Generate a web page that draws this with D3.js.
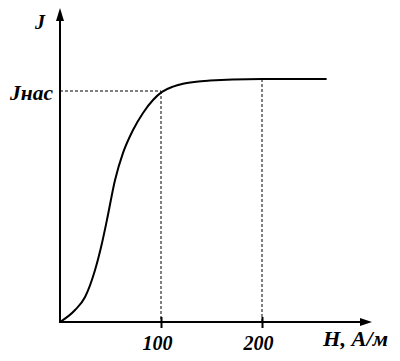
<!DOCTYPE html>
<html><head><meta charset="utf-8">
<script src="https://cdn.jsdelivr.net/npm/d3@7"></script>
<style>body{margin:0;background:#fff}svg{display:block}</style>
</head><body>
<svg id="c" width="400" height="361"></svg>
<script>
const H = [0, 14.9, 24.8, 34.7, 41.6, 46.5, 54.5, 62.4, 72.3, 82.2, 92.1, 101, 111.9, 121.8, 135, 148.5, 171, 200, 264];
const J = [0, 0.052, 0.108, 0.225, 0.342, 0.442, 0.615, 0.732, 0.831, 0.905, 0.961, 0.996, 1.019, 1.031, 1.040, 1.045, 1.050, 1.052, 1.052];
const xTicks = [100, 200];
const xTickLabels = ["100", "200"];
const Jsat = 1;
const Hsat = 100;
const Hmark = 200;

const svg = d3.select("#c");
const x = d3.scaleLinear().domain([0, 300]).range([60, 363]);
const y = d3.scaleLinear().domain([0, 1]).range([322, 91]);
const font = "'Liberation Serif','Times New Roman',serif";

// dashed guides
svg.append("line").attr("x1", x(0)).attr("x2", x(Hsat)).attr("y1", y(Jsat)).attr("y2", y(Jsat))
  .attr("stroke", "#000").attr("stroke-width", 1).attr("stroke-dasharray", "3,2");
svg.append("line").attr("x1", x(Hsat)).attr("x2", x(Hsat)).attr("y1", y(Jsat)).attr("y2", y(0))
  .attr("stroke", "#000").attr("stroke-width", 1).attr("stroke-dasharray", "3,2");
svg.append("line").attr("x1", x(Hmark)).attr("x2", x(Hmark)).attr("y1", y(1.052)).attr("y2", y(0))
  .attr("stroke", "#000").attr("stroke-width", 1).attr("stroke-dasharray", "3,2");

// curve
const line = d3.line().x((d, i) => x(H[i])).y((d, i) => y(J[i])).curve(d3.curveMonotoneX);
svg.append("path").attr("d", line(H)).attr("fill", "none").attr("stroke", "#000").attr("stroke-width", 2);

// x axis
const xAxis = d3.axisBottom(x).tickValues(xTicks).tickFormat((d, i) => xTickLabels[i]).tickSize(6).tickPadding(8);
const gx = svg.append("g").attr("transform", `translate(0,${y(0)})`).call(xAxis);
gx.select(".domain").remove();
gx.selectAll(".tick line").attr("y1", -5).attr("stroke-width", 2);
gx.selectAll(".tick text").attr("font-family", font).attr("font-size", 20).attr("font-weight", "bold")
  .attr("font-style", "italic").attr("fill", "#000").attr("dx", -4);

svg.append("line").attr("x1", x(0) - 1).attr("x2", 362).attr("y1", y(0)).attr("y2", y(0))
  .attr("stroke", "#000").attr("stroke-width", 2);
svg.append("path").attr("d", `M372,${y(0)} L360,${y(0) - 4} L360,${y(0) + 4} Z`).attr("fill", "#000");

// y axis
svg.append("line").attr("x1", x(0)).attr("x2", x(0)).attr("y1", y(0) + 1).attr("y2", 20)
  .attr("stroke", "#000").attr("stroke-width", 2);
svg.append("path").attr("d", `M${x(0)},8 L${x(0) - 4},21 L${x(0) + 4},21 Z`).attr("fill", "#000");

// labels
const lab = (t, xx, yy, size, len) => {
  const s = svg.append("text").text(t).attr("x", xx).attr("y", yy)
    .attr("font-family", font).attr("font-size", size).attr("font-weight", "bold").attr("font-style", "italic")
    .attr("fill", "#000");
  if (len) s.attr("textLength", len).attr("lengthAdjust", "spacingAndGlyphs");
  return s;
};
lab("J", 35, 29, 20);
lab("Jнас", 10, 100, 20, 43);
lab("H, А/м", 323, 346, 20, 65);
</script>
</body></html>
